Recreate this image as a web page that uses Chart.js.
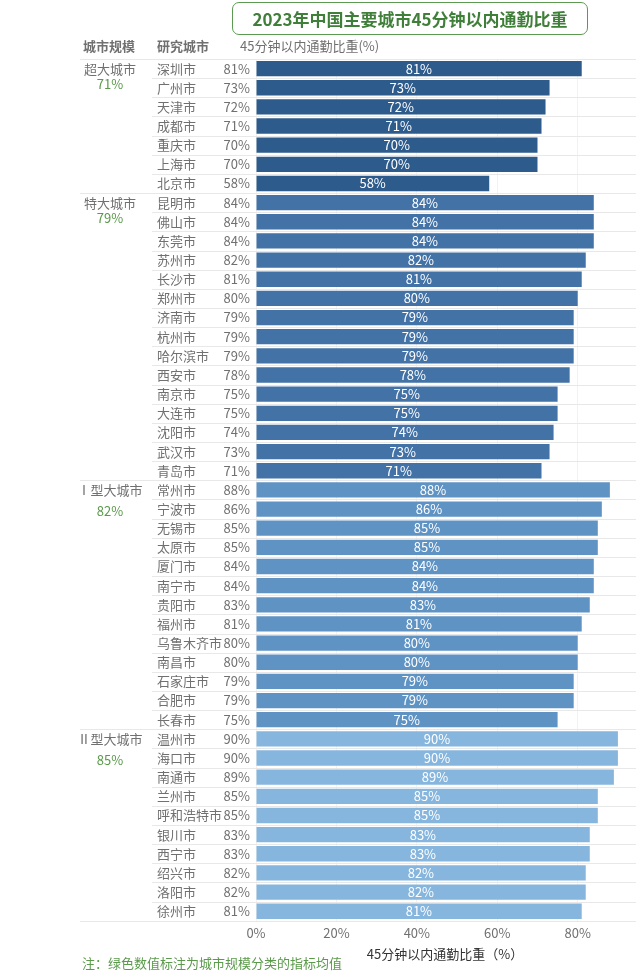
<!DOCTYPE html>
<html>
<head>
<meta charset="utf-8">
<script src="https://cdn.jsdelivr.net/npm/chart.js@4.4.1/dist/chart.umd.min.js"></script>
<style>
  body { margin: 0; background: #fff; font-family: "Noto Sans CJK SC", sans-serif; }
  #wrap { position: relative; width: 640px; height: 979px; }
  #title {
    position: absolute; left: 232px; top: 2px; width: 354px; height: 31px;
    border: 1.5px solid #5c9a52; border-radius: 7px;
    color: #3f7f3a; font-size: 17px; font-weight: bold;
    text-align: center; line-height: 31px;
  }
  #note { position: absolute; left: 82px; top: 953px; color: #5a9a4a; font-size: 13px; }
</style>
</head>
<body>
<div id="wrap">
  <canvas id="chart" width="640" height="979"></canvas>
  <div id="title">2023年中国主要城市45分钟以内通勤比重</div>
  <div id="note">注：绿色数值标注为城市规模分类的指标均值</div>
</div>
<script>
// city-size groups and their mean values
const groupNames = ["超大城市", "特大城市", "Ⅰ型大城市", "Ⅱ型大城市"];
const groupMeans = ["71%", "79%", "82%", "85%"];

const cities = [
  "深圳市", "广州市", "天津市", "成都市", "重庆市", "上海市", "北京市",
  "昆明市", "佛山市", "东莞市", "苏州市", "长沙市", "郑州市", "济南市", "杭州市",
  "哈尔滨市", "西安市", "南京市", "大连市", "沈阳市", "武汉市", "青岛市",
  "常州市", "宁波市", "无锡市", "太原市", "厦门市", "南宁市", "贵阳市", "福州市",
  "乌鲁木齐市", "南昌市", "石家庄市", "合肥市", "长春市",
  "温州市", "海口市", "南通市", "兰州市", "呼和浩特市", "银川市", "西宁市",
  "绍兴市", "洛阳市", "徐州市"
];
const values = [
  81, 73, 72, 71, 70, 70, 58,
  84, 84, 84, 82, 81, 80, 79, 79, 79, 78, 75, 75, 74, 73, 71,
  88, 86, 85, 85, 84, 84, 83, 81, 80, 80, 79, 79, 75,
  90, 90, 89, 85, 85, 83, 83, 82, 82, 81
];
const cityGroup = [
  0, 0, 0, 0, 0, 0, 0,
  1, 1, 1, 1, 1, 1, 1, 1, 1, 1, 1, 1, 1, 1, 1,
  2, 2, 2, 2, 2, 2, 2, 2, 2, 2, 2, 2, 2,
  3, 3, 3, 3, 3, 3, 3, 3, 3, 3
];
const xTicks = [0, 20, 40, 60, 80];

const groupColors = ["#2d5b8c", "#4372a6", "#5f93c4", "#86b6de"];
const font = "Noto Sans CJK SC";

const tablePlugin = {
  id: "table",
  beforeDatasetsDraw(chart) {
    const { ctx } = chart;
    const y = chart.scales.y;
    const half = (y.getPixelForValue(1) - y.getPixelForValue(0)) / 2;
    ctx.save();
    ctx.strokeStyle = "#e8e8e8";
    ctx.lineWidth = 1;
    for (let i = 0; i <= cities.length; i++) {
      const py = Math.round(y.getPixelForValue(i) - half) + 0.5;
      const groupEdge = i === 0 || i === cities.length || cityGroup[i] !== cityGroup[i - 1];
      ctx.beginPath();
      ctx.moveTo(groupEdge ? 80 : 152, py);
      ctx.lineTo(636, py);
      ctx.stroke();
    }
    ctx.restore();
  },
  afterDatasetsDraw(chart) {
    const { ctx } = chart;
    const x = chart.scales.x;
    const y = chart.scales.y;
    ctx.save();
    ctx.textBaseline = "middle";
    // headers
    ctx.font = "bold 13px '" + font + "'";
    ctx.fillStyle = "#707070";
    ctx.textAlign = "left";
    ctx.fillText("城市规模", 83, 46);
    ctx.fillText("研究城市", 157, 46);
    ctx.font = "13px '" + font + "'";
    ctx.fillText("45分钟以内通勤比重(%)", 240, 46);

    cities.forEach((c, i) => {
      const py = y.getPixelForValue(i);
      const g = cityGroup[i];
      if (i === 0 || cityGroup[i - 1] !== g) {
        ctx.textAlign = "center";
        ctx.font = "13px '" + font + "'";
        ctx.fillStyle = "#707070";
        ctx.fillText(groupNames[g], 110, py);
        ctx.fillStyle = "#5a9a4a";
        ctx.fillText(groupMeans[g], 110, py + (g < 2 ? 15 : 21));
      }
      ctx.textAlign = "left";
      ctx.fillStyle = "#707070";
      ctx.fillText(c, 157, py);
      ctx.textAlign = "right";
      ctx.fillText(values[i] + "%", 250, py);
      // label inside bar
      ctx.textAlign = "center";
      ctx.fillStyle = "#ffffff";
      ctx.fillText(values[i] + "%", (x.getPixelForValue(0) + x.getPixelForValue(values[i])) / 2, py);
    });
    ctx.restore();
  }
};

new Chart(document.getElementById("chart"), {
  type: "bar",
  data: {
    labels: cities,
    datasets: [{
      data: values,
      backgroundColor: cityGroup.map(g => groupColors[g]),
      categoryPercentage: 1,
      barPercentage: 0.8,
    }],
  },
  options: {
    indexAxis: "y",
    responsive: false,
    animation: false,
    layout: { padding: { left: 256, right: 6, top: 59, bottom: 17 } },
    plugins: { legend: { display: false }, tooltip: { enabled: false } },
    scales: {
      y: { display: false },
      x: {
        min: 0,
        max: 94,
        border: { display: false },
        grid: { color: "#f2f2f2", drawTicks: false },
        afterBuildTicks(scale) {
          scale.ticks = xTicks.map(v => ({ value: v }));
        },
        ticks: {
          padding: 4,
          color: "#707070",
          font: { family: font, size: 13 },
          callback: v => v + "%",
        },
        title: {
          display: true,
          text: "45分钟以内通勤比重（%）",
          color: "#333",
          font: { family: font, size: 13 },
          padding: { top: 2, bottom: 0 },
        },
      },
    },
  },
  plugins: [tablePlugin],
});
</script>
</body>
</html>
